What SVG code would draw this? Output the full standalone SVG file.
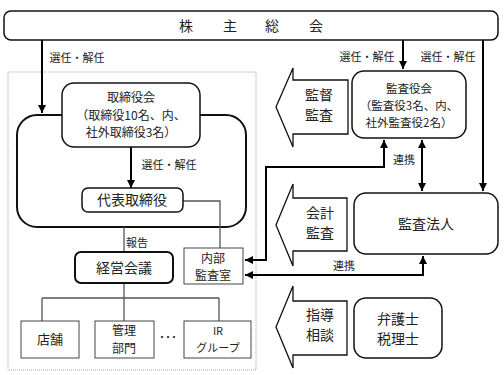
<svg xmlns="http://www.w3.org/2000/svg" width="504" height="375" viewBox="0 0 504 375">
<style>
text{font-family:"Noto Sans CJK JP","Noto Sans",sans-serif;fill:#222;text-anchor:middle}
.t13{font-size:13px}
.t12{font-size:12px}
.t11{font-size:11px}
.t14{font-size:14px}
.t15{font-size:14px}
.box{fill:#fff;stroke:#111;stroke-width:1.5}
.sq{fill:#fff;stroke:#444;stroke-width:1}
.thick{fill:none;stroke:#000;stroke-width:2}
.thin{fill:none;stroke:#555;stroke-width:1.3}
.big{fill:#fff;stroke:#111;stroke-width:1.3}
</style>
<defs>
<marker id="ah" viewBox="0 0 10 10" refX="10" refY="5" markerWidth="4" markerHeight="4" orient="auto-start-reverse">
<path d="M0,0 L10,5 L0,10 Z" fill="#000"/>
</marker>
</defs>
<rect x="8" y="72" width="248" height="298" fill="none" stroke="#aaa" stroke-width="1" stroke-dasharray="1,1"/>
<g id="shareholders">
<rect x="4" y="11" width="494" height="29" rx="7" class="box"/>
<text y="31" style="font-size:14px"><tspan x="186">株</tspan><tspan x="230">主</tspan><tspan x="272">総</tspan><tspan x="316">会</tspan></text>
</g>
<g id="board-outer">
<rect x="17" y="115" width="229" height="112" rx="20" class="box" style="stroke-width:2"/>
</g>
<g id="connectors">
<path d="M42,40 V113" class="thick" marker-end="url(#ah)"/>
<path d="M131,147 V188" class="thick" marker-end="url(#ah)"/>
<path d="M183,201 H220 V248" class="thin"/>
<path d="M124,227 V252" class="thin"/>
<path d="M124,283 V298 M42,298 H219 M42,298 V321 M124,298 V321 M219,298 V321" class="thin"/>
<path d="M403,40 V69" class="thick" marker-end="url(#ah)"/>
<path d="M483,40 V191" class="thick" marker-end="url(#ah)"/>
<path d="M422,140 V191" class="thick" marker-start="url(#ah)" marker-end="url(#ah)"/>
<path d="M384,140 V167 H266 V260 H245" class="thick" marker-start="url(#ah)" marker-end="url(#ah)"/>
<path d="M245,275 H423 V256" class="thick" marker-start="url(#ah)" marker-end="url(#ah)"/>
</g>
<g id="labels">
<text x="77" y="62" class="t11">選任・解任</text>
<text x="169" y="169" class="t11">選任・解任</text>
<text x="367" y="61" class="t11">選任・解任</text>
<text x="448" y="61" class="t11">選任・解任</text>
<text x="137" y="247" class="t11">報告</text>
<text x="404" y="164" class="t11">連携</text>
<text x="344" y="270" class="t11">連携</text>
</g>
<g id="board">
<rect x="62" y="83" width="138" height="64" rx="12" class="box"/>
<text x="131" y="102" style="font-size:12px">取締役会</text>
<text x="131" y="119.5" style="font-size:12px">（取締役10名、内、</text>
<text x="131" y="137" style="font-size:12px">社外取締役3名）</text>
</g>
<g id="president">
<rect x="82" y="188" width="101" height="24" rx="6" class="box"/>
<text x="132" y="205" class="t14">代表取締役</text>
</g>
<g id="audit-room">
<rect x="184" y="248" width="59" height="36" class="sq"/>
<text x="213" y="263" class="t12">内部</text>
<text x="213" y="280" class="t12">監査室</text>
</g>
<g id="mgmt-meeting">
<rect x="75" y="252" width="98" height="31" rx="6" class="box" style="stroke-width:2"/>
<text x="124" y="273" class="t14">経営会議</text>
</g>
<g id="stores">
<rect x="21" y="321" width="58" height="37" class="sq"/>
<text x="50" y="344" class="t13">店舗</text>
</g>
<g id="admin">
<rect x="95" y="321" width="59" height="37" class="sq"/>
<text x="124" y="335" class="t12">管理</text>
<text x="124" y="352.5" class="t12">部門</text>
</g>
<text x="166" y="341" style="font-size:10px" letter-spacing="-4">・・・</text>
<g id="ir">
<rect x="184" y="321" width="67" height="37" class="sq"/>
<text x="218" y="335" class="t11">IR</text>
<text x="218" y="352" class="t11">グループ</text>
</g>
<g id="auditors">
<rect x="352" y="71" width="114" height="67" rx="12" class="box"/>
<text x="409" y="93" style="font-size:11.5px">監査役会</text>
<text x="409" y="110" style="font-size:11.5px">（監査役3名、内、</text>
<text x="409" y="127" style="font-size:11.5px">社外監査役2名）</text>
</g>
<g id="audit-firm">
<rect x="354" y="193" width="144" height="61" rx="12" class="box"/>
<text x="426" y="229" class="t14">監査法人</text>
</g>
<g id="advisors">
<rect x="354" y="298" width="88" height="60" rx="12" class="box"/>
<text x="398" y="324" class="t14">弁護士</text>
<text x="398" y="344" class="t14">税理士</text>
</g>
<g id="arrow-supervision">
<path d="M276,107 L293,68 V80 H348 V134 H293 V147 Z" class="big"/>
<text x="319" y="100" class="t15">監督</text>
<text x="319" y="120" class="t15">監査</text>
</g>
<g id="arrow-accounting">
<path d="M276,225 L293,184 V198 H347 V251 H293 V266 Z" class="big"/>
<text x="320" y="218" class="t15">会計</text>
<text x="320" y="238" class="t15">監査</text>
</g>
<g id="arrow-guidance">
<path d="M276,327 L293,286 V301 H347 V355 H293 V368 Z" class="big"/>
<text x="320" y="320" class="t15">指導</text>
<text x="320" y="340" class="t15">相談</text>
</g>
</svg>
